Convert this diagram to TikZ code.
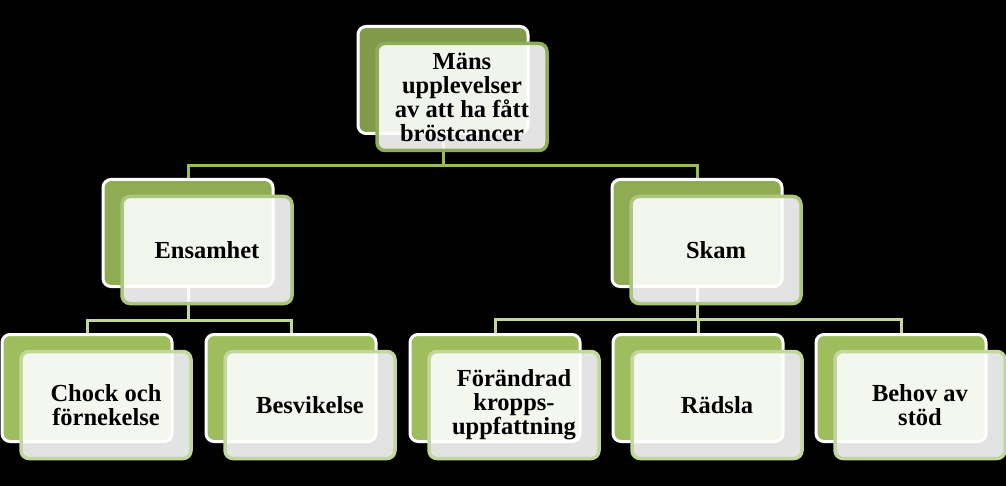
\documentclass[tikz,border=0pt]{standalone}
\usepackage{fontspec}
\setmainfont{Liberation Serif}
\definecolor{backA}{HTML}{7F9B49}
\definecolor{backB}{HTML}{8FAC54}
\definecolor{backC}{HTML}{9EBD5D}
\definecolor{edgeA}{HTML}{8DAD57}
\definecolor{edgeB}{HTML}{ABC67D}
\definecolor{edgeC}{HTML}{C3D69B}
\definecolor{connA}{HTML}{9BBB59}
\definecolor{connB}{HTML}{C3D69B}
\pgfdeclarelayer{bg}
\pgfsetlayers{bg,main}
\tikzset{
  backbox/.style={draw=white, line width=3pt, rounded corners=8pt,
    minimum width=170pt, minimum height=107pt, inner sep=0pt},
  frontbox/.style={line width=3.5pt, rounded corners=8pt, fill=white,
    fill opacity=0.89, text opacity=1, minimum width=170pt, minimum height=107pt,
    inner sep=2pt, align=center, text=black,
    font=\bfseries\fontsize{24.5}{24}\selectfont},
  conn/.style={line width=3pt}
}
\newcommand\boxpair[6]{%
  \node[backbox, fill=#4] (#1b) at (#2,#3) {};
  \node[frontbox, draw=#5] (#1) at ({#2+19},{#3+17}) {#6};
}
\begin{document}
\begin{tikzpicture}[x=1pt,y=-1pt]
\useasboundingbox (0,0) rectangle (1006,486);
\begin{pgfonlayer}{bg}
\fill[black] (0,0) rectangle (1006,486);
\end{pgfonlayer}
\boxpair{top}{443}{80}{backA}{edgeA}{Mäns\\upplevelser\\av att ha fått\\bröstcancer}
\boxpair{ens}{188}{233}{backB}{edgeB}{Ensamhet}
\boxpair{ska}{697}{233}{backB}{edgeB}{Skam}
\boxpair{cho}{87}{388}{backC}{edgeC}{Chock och\\förnekelse}
\boxpair{bes}{291}{388}{backC}{edgeC}{Besvikelse}
\boxpair{for}{495}{388}{backC}{edgeC}{Förändrad\\kropps-\\uppfattning}
\boxpair{rad}{698}{388}{backC}{edgeC}{Rädsla}
\boxpair{beh}{901}{388}{backC}{edgeC}{Behov av\\stöd}
\coordinate (j0) at (443,166);
\coordinate (j1) at (188,320);
\coordinate (j2) at (697,319);
\begin{pgfonlayer}{bg}
\draw[conn, draw=connA] (topb.center) -- (j0) -| (ensb.center);
\draw[conn, draw=connA] (j0) -| (skab.center);
\draw[conn, draw=connB] (ensb.center) -- (j1) -| (chob.center);
\draw[conn, draw=connB] (j1) -| (besb.center);
\draw[conn, draw=connB] (skab.center) -- (j2) -| (forb.center);
\draw[conn, draw=connB] (j2) -| (radb.center);
\draw[conn, draw=connB] (j2) -| (behb.center);
\end{pgfonlayer}
\end{tikzpicture}
\end{document}
